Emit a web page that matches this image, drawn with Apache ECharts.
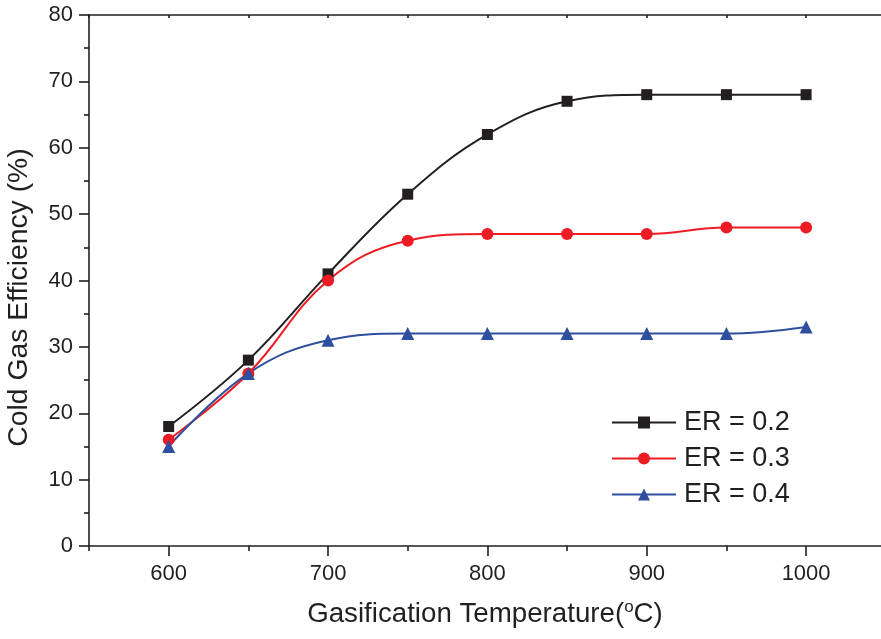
<!DOCTYPE html>
<html><head><meta charset="utf-8">
<script src="https://cdn.jsdelivr.net/npm/echarts@6/dist/echarts.min.js"></script>
<style>html,body{margin:0;padding:0;background:#fff}#c{width:881px;height:639px}</style>
</head><body><div id="c"></div>
<script>
const temperatures = [600, 650, 700, 750, 800, 850, 900, 950, 1000];
const er02 = [18, 28, 41, 53, 62, 67, 68, 68, 68];
const er03 = [16, 26, 40, 46, 47, 47, 47, 48, 48];
const er04 = [15, 26, 31, 32, 32, 32, 32, 32, 33];
const xMajorTicks = [600, 700, 800, 900, 1000];
const xMinorTicks = [550, 650, 750, 850, 950];
const xTopTicks = [550, 600, 650, 700, 750, 800, 850, 900, 950, 1000];
const seriesNames = ['ER = 0.2', 'ER = 0.3', 'ER = 0.4'];

const FONT = 'Liberation Sans, Arial, sans-serif';
const AX = '#231f20';
const pair = arr => temperatures.map((t, i) => [t, arr[i]]);

const chart = echarts.init(document.getElementById('c'), null, {renderer: 'canvas'});
const baseX = {type: 'value', min: 550, max: 1047, splitLine: {show: false}};
chart.setOption({
  animation: false,
  backgroundColor: '#fff',
  grid: {left: 89, right: 0, top: 15, bottom: 93, containLabel: false, outerBoundsMode: 'none'},
  xAxis: [
    Object.assign({}, baseX, {
      position: 'bottom',
      name: '{t|Gasification Temperature(}{s|o}{t|C)}',
      nameLocation: 'middle', nameGap: 53,
      nameTextStyle: {rich: {
        t: {fontFamily: FONT, fontSize: 27.7, color: AX},
        s: {fontFamily: FONT, fontSize: 17, color: AX, verticalAlign: 'top', padding: [0, 0, 14, 0]}
      }},
      axisLine: {show: true, onZero: false, lineStyle: {color: AX, width: 1.6}},
      axisTick: {show: true, customValues: xMajorTicks, length: 10, lineStyle: {color: AX, width: 1.6}},
      axisLabel: {show: true, customValues: xMajorTicks, margin: 17, fontFamily: FONT, fontSize: 22, color: AX,
                  formatter: v => String(v)}
    }),
    Object.assign({}, baseX, {
      position: 'bottom',
      axisLine: {show: false},
      axisTick: {show: true, customValues: xMinorTicks, length: 5, lineStyle: {color: AX, width: 1.6}},
      axisLabel: {show: false}
    }),
    Object.assign({}, baseX, {
      position: 'top',
      axisLine: {show: true, onZero: false, lineStyle: {color: AX, width: 1.6}},
      axisTick: {show: true, inside: true, customValues: xTopTicks, length: 3, lineStyle: {color: AX, width: 1.6}},
      axisLabel: {show: false}
    })
  ],
  yAxis: {
    type: 'value', min: 0, max: 80, interval: 10,
    name: 'Cold Gas Efficiency (%)',
    nameLocation: 'middle', nameGap: 56,
    nameTextStyle: {fontFamily: FONT, fontSize: 28.3, color: AX, padding: [0, 34, 0, 0]},
    axisLine: {show: true, onZero: false, lineStyle: {color: AX, width: 1.6}},
    axisTick: {show: true, length: 10, lineStyle: {color: AX, width: 1.6}},
    minorTick: {show: true, splitNumber: 2, length: 5, lineStyle: {color: AX, width: 1.6}},
    axisLabel: {margin: 16, fontFamily: FONT, fontSize: 22, color: AX},
    splitLine: {show: false}
  },
  legend: {
    orient: 'vertical', left: 606, top: 404,
    itemWidth: 64, itemHeight: 15, itemGap: 9,
    textStyle: {fontFamily: FONT, fontSize: 27, lineHeight: 27, color: AX, padding: [0, 0, 0, 3]},
    data: seriesNames
  },
  series: [
    {name: seriesNames[0], type: 'line', data: pair(er02), smooth: 0.4,
     symbol: 'rect', symbolSize: 11, color: '#231f20',
     lineStyle: {width: 2, color: '#231f20'}, itemStyle: {color: '#231f20'}},
    {name: seriesNames[1], type: 'line', data: pair(er03), smooth: 0.4,
     symbol: 'circle', symbolSize: 12, color: '#ed1c24',
     lineStyle: {width: 2, color: '#ed1c24'}, itemStyle: {color: '#ed1c24'}},
    {name: seriesNames[2], type: 'line', data: pair(er04), smooth: 0.4,
     symbol: 'triangle', symbolSize: 13, color: '#2e4fa0',
     lineStyle: {width: 2, color: '#2e4fa0'}, itemStyle: {color: '#2e4fa0'}}
  ]
});
</script></body></html>
